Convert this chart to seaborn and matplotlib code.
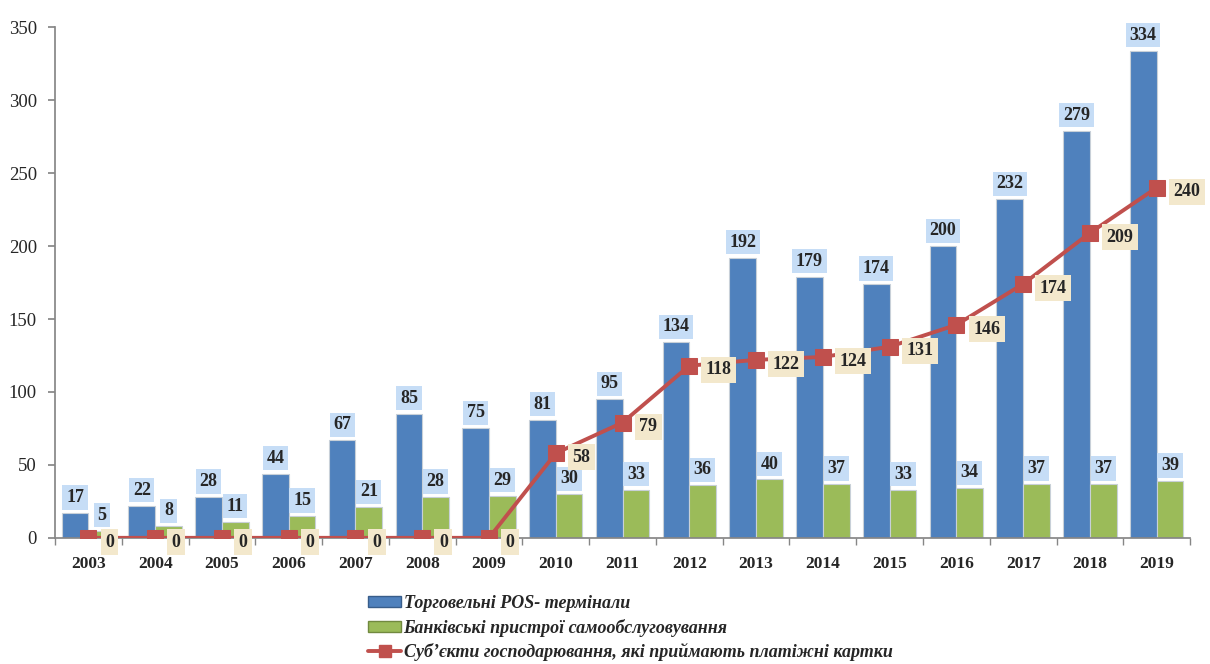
import seaborn as sns
import matplotlib.pyplot as plt
import pandas as pd
from matplotlib.lines import Line2D
from matplotlib.patches import Patch

years = [str(y) for y in range(2003, 2020)]
pos_terminals = [17, 22, 28, 44, 67, 85, 75, 81, 95, 134, 192, 179, 174, 200, 232, 279, 334]
self_service = [5, 8, 11, 15, 21, 28, 29, 30, 33, 36, 40, 37, 33, 34, 37, 37, 39]
merchants = [0, 0, 0, 0, 0, 0, 0, 58, 79, 118, 122, 124, 131, 146, 174, 209, 240]

names = ["Торговельні POS- термінали",
         "Банківські пристрої самообслуговування",
         "Суб’єкти господарювання, які приймають платіжні картки"]

blue = "#4F81BD"
green = "#9BBB59"
red = "#C0504D"

df = pd.DataFrame({
    "year": years * 2,
    "value": pos_terminals + self_service,
    "kind": [names[0]] * len(years) + [names[1]] * len(years),
})
line_df = pd.DataFrame({"x": range(len(years)), "value": merchants})

sns.set_theme(style="ticks")
plt.rcParams['font.family'] = ['Liberation Serif', 'DejaVu Serif']

fig = plt.figure(figsize=(12.1, 6.64), dpi=100)
ax = fig.add_axes([0.0455, 0.19, 0.938, 0.769])

sns.barplot(data=df, x="year", y="value", hue="kind", ax=ax,
            palette=[blue, green], width=0.8, legend=False,
            edgecolor="#C8D0D8", linewidth=0.8, saturation=1)

sns.lineplot(data=line_df, x="x", y="value", ax=ax, color=red, linewidth=2.8,
             marker="s", markersize=11, markeredgecolor=red, zorder=5)

# bar labels
for cont in ax.containers:
    for rect in cont:
        h = rect.get_height()
        ax.annotate(f"{int(h)}", (rect.get_x() + rect.get_width() / 2, h),
                    xytext=(0, 5), textcoords="offset points",
                    ha="center", va="bottom", fontsize=13, fontweight="bold",
                    bbox=dict(boxstyle="square,pad=0.2", fc="#C6DDF6", ec="none"),
                    zorder=6)

# line labels
for i, v in enumerate(merchants):
    ax.annotate(f"{v}", (i, v), xytext=(12, -3), textcoords="offset points",
                ha="left", va="center", fontsize=13, fontweight="bold",
                bbox=dict(boxstyle="square,pad=0.25", fc="#F3E8CC", ec="none"),
                zorder=7)

ax.set_ylim(0, 350)
ax.set_xlim(-0.5, len(years) - 0.5)
ax.set_yticks(range(0, 351, 50))
ax.set_xlabel("")
ax.set_ylabel("")
ax.tick_params(axis="y", labelsize=13.5, color="#868686", length=5, pad=8)
ax.tick_params(axis="x", length=0, labelsize=12.5, pad=13)
for lbl in ax.get_xticklabels():
    lbl.set_fontweight("bold")
ax.set_xticks([i - 0.5 for i in range(len(years) + 1)], minor=True)
ax.tick_params(axis="x", which="minor", length=5, color="#868686")
for s in ["top", "right"]:
    ax.spines[s].set_visible(False)
for s in ["left", "bottom"]:
    ax.spines[s].set_color("#868686")

handles = [Patch(fc=blue, ec="#385D8A"),
           Patch(fc=green, ec="#71893F"),
           Line2D([], [], color=red, linewidth=2.8, marker="s", markersize=8)]
fig.legend(handles, names, loc="upper left", bbox_to_anchor=(0.291, 0.128),
           frameon=False, handlelength=1.8, handleheight=0.55, handletextpad=0.15,
           labelspacing=0.35,
           prop=dict(family="Liberation Serif", weight="bold", style="italic", size=13))

fig.savefig("out.png", dpi=100)
